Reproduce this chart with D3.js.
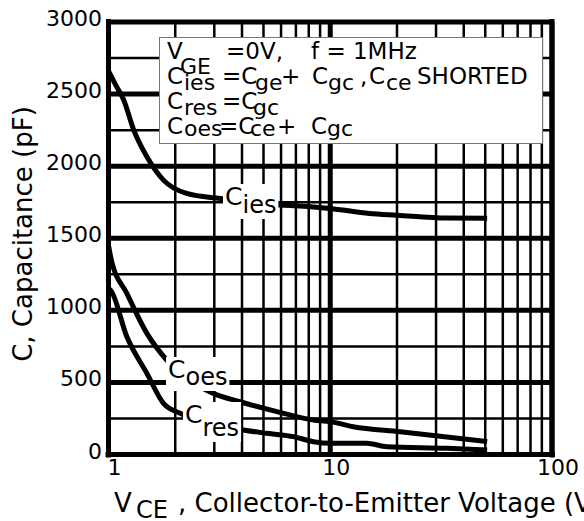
<!DOCTYPE html>
<html>
<head>
  <meta charset="utf-8">
  <script src="https://d3js.org/d3.v7.min.js"></script>
  <style>
    body { margin: 0; background: #fff; }
    text { font-family: "DejaVu Sans", sans-serif; fill: #000; }
  </style>
</head>
<body>
<script>
  // values
  var ciesV = [1, 1.08, 1.17, 1.3, 1.49, 1.77, 2.25, 3.19, 4.5, 5.75, 6.6, 10, 15, 20, 33.6, 51];
  var ciesC = [2660, 2560, 2460, 2250, 2065, 1903, 1811, 1776, 1750, 1730, 1728, 1707, 1672, 1660, 1640, 1638];

  var coesV = [1, 1.03, 1.21, 1.49, 1.83, 2.97, 3.92, 5.75, 8.4, 10, 12.7, 20.7, 51];
  var coesC = [1450, 1349, 1118, 840, 655, 424, 366, 297, 239, 228, 193, 158, 89];

  var cresV = [1, 1.02, 1.21, 1.49, 1.77, 2.14, 4.06, 5.18, 6.83, 8.4, 10, 14.6, 18, 33.6, 51];
  var cresC = [1150, 1141, 817, 563, 355, 281, 170, 147, 124, 89, 78, 78, 54, 43, 31];

  var xTickLabels = [1, 10, 100];
  var yTickLabels = [0, 500, 1000, 1500, 2000, 2500, 3000];

  var width = 584, height = 521;

  var svg = d3.select("body").append("svg")
    .attr("width", width)
    .attr("height", height);

  var x = d3.scaleLog().domain([1, 100]).range([108.5, 552]);
  var y = d3.scaleLinear().domain([0, 3000]).range([454.5, 22]);

  // grid
  var grid = svg.append("g");
  grid.selectAll("line.v")
    .data(x.ticks())
    .enter().append("line")
      .attr("x1", function(d) { return x(d); })
      .attr("x2", function(d) { return x(d); })
      .attr("y1", y(3000))
      .attr("y2", y(0))
      .attr("stroke", "#000")
      .attr("stroke-width", function(d) { return xTickLabels.indexOf(d) >= 0 ? 5 : 2.5; });

  grid.selectAll("line.h")
    .data(d3.range(0, 3001, 250))
    .enter().append("line")
      .attr("x1", x(1))
      .attr("x2", x(100))
      .attr("y1", function(d) { return y(d); })
      .attr("y2", function(d) { return y(d); })
      .attr("stroke", "#000")
      .attr("stroke-width", function(d) { return d % 500 == 0 ? 5 : 2.5; });

  // frame, slightly overshooting like the print
  svg.append("line").attr("x1", x(1)).attr("x2", x(1)).attr("y1", y(3000) - 3).attr("y2", y(0) + 3)
    .attr("stroke", "#000").attr("stroke-width", 5);
  svg.append("line").attr("x1", x(100)).attr("x2", x(100)).attr("y1", y(3000) - 3).attr("y2", y(0) + 3)
    .attr("stroke", "#000").attr("stroke-width", 5);
  svg.append("line").attr("x1", x(1) - 3).attr("x2", x(100) + 3).attr("y1", y(0)).attr("y2", y(0))
    .attr("stroke", "#000").attr("stroke-width", 5);

  // curves
  var line = d3.line()
    .x(function(d) { return x(d[0]); })
    .y(function(d) { return y(d[1]); })
    .curve(d3.curveMonotoneX);

  function addCurve(vs, cs) {
    svg.append("path")
      .datum(d3.zip(vs, cs))
      .attr("d", line)
      .attr("fill", "none")
      .attr("stroke", "#000")
      .attr("stroke-width", 5);
  }
  addCurve(ciesV, ciesC);
  addCurve(coesV, coesC);
  addCurve(cresV, cresC);

  // text with subscripts: parts = [[text, isSub, xpos]]
  function richText(parent, x0, y0, size, subSize, subDy, parts) {
    var t = parent.append("text")
      .attr("x", x0)
      .attr("y", y0)
      .style("font-size", size + "px");
    parts.forEach(function(p) {
      var s = t.append("tspan").text(p[0]);
      if (p[2] != null) s.attr("x", p[2]);
      s.attr("y", p[1] ? y0 + subDy : y0);
      if (p[1]) s.style("font-size", subSize + "px");
    });
    return t;
  }

  // curve labels on white patches
  function curveLabel(x0, y0, sub, subDy) {
    var g = svg.append("g");
    var r = g.append("rect").attr("fill", "#fff");
    var t = richText(g, x0, y0, 25, 24, subDy, [["C", false], [sub, true]]);
    var b = t.node().getBBox();
    r.attr("x", b.x - 2).attr("y", b.y + 2).attr("width", b.width + 4).attr("height", b.height - 2);
  }
  curveLabel(225, 205, "ies", 8);
  curveLabel(168, 378, "oes", 7);
  curveLabel(185, 423, "res", 13);

  // legend box
  var leg = svg.append("g");
  leg.append("rect")
    .attr("x", 159.5).attr("y", 37.5)
    .attr("width", 383).attr("height", 106)
    .attr("fill", "#fff")
    .attr("stroke", "#777")
    .attr("stroke-width", 1);

  richText(leg, 167, 59, 23, 22, 15, [["V", false], ["GE", true, 180], ["=0V,", false, 226], ["f = 1MHz", false, 311]]);
  richText(leg, 167, 84, 23, 22, 6, [["C", false], ["ies", true, 184], ["=C", false, 222], ["ge", true, 255], ["+", false, 281],
    ["C", false, 312], ["gc", true, 328], [",", false, 360], ["C", false, 369], ["ce", true, 386], ["SHORTED", false, 417]]);
  richText(leg, 167, 109, 23, 22, 6, [["C", false], ["res", true, 184], ["=C", false, 222], ["gc", true, 253]]);
  richText(leg, 167, 134, 23, 22, 2, [["C", false], ["oes", true, 184], ["=C", false, 219], ["ce", true, 250], ["+", false, 277],
    ["C", false, 311], ["gc", true, 327]]);

  // tick labels
  svg.append("g").selectAll("text")
    .data(yTickLabels)
    .enter().append("text")
      .attr("x", 102)
      .attr("y", function(d) { return y(d) + 4; })
      .attr("text-anchor", "end")
      .style("font-size", "22px")
      .text(function(d) { return d; });

  svg.append("g").selectAll("text")
    .data(xTickLabels)
    .enter().append("text")
      .attr("x", function(d) { return x(d) + 6; })
      .attr("y", 475)
      .attr("text-anchor", "middle")
      .style("font-size", "22px")
      .text(function(d) { return d; });

  // axis titles
  svg.append("text")
    .attr("transform", "translate(32,234) rotate(-90)")
    .attr("text-anchor", "middle")
    .style("font-size", "26px")
    .text("C, Capacitance (pF)");

  richText(svg, 114, 512, 26, 24, 6, [["V", false], ["CE", true, 136], [", Collector-to-Emitter Voltage (V)", false, 178]]);
</script>
</body>
</html>
